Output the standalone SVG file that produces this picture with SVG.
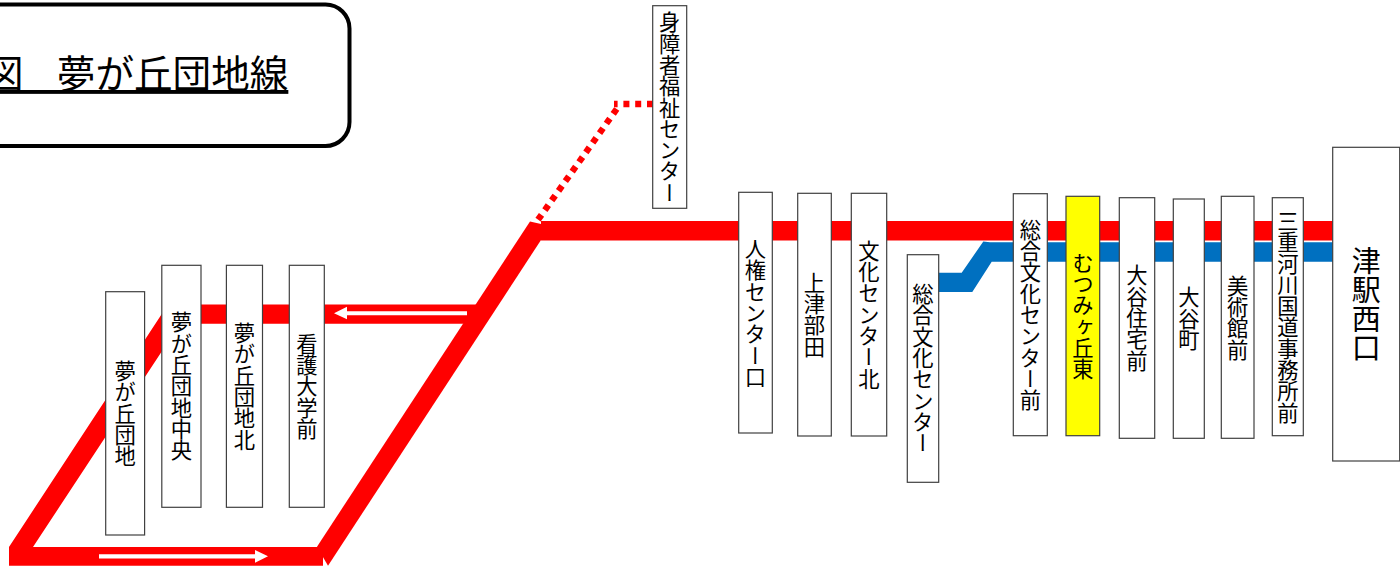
<svg xmlns="http://www.w3.org/2000/svg" width="1400" height="580" viewBox="0 0 1400 580">
<style>
.red{fill:#ff0000}
.blue{fill:#0070c0}
.dash{fill:none;stroke:#ff0000;stroke-width:6.4;stroke-dasharray:6 5.8}
.arrow{fill:#ffffff}
.box{fill:#ffffff;stroke:#404040;stroke-width:1.2}
.lbl{font-family:"Noto Sans CJK JP","Liberation Sans",sans-serif;font-size:21.3px;fill:#000;writing-mode:vertical-rl;text-anchor:middle}
.big{font-size:29px}
.title{font-family:"Noto Sans CJK JP","Liberation Sans",sans-serif;font-size:38.6px;fill:#000;text-decoration:underline;text-decoration-thickness:2px;text-decoration-skip-ink:none;text-underline-offset:4px;white-space:pre;word-spacing:8px}
</style>
<rect width="1400" height="580" fill="#ffffff"/>
<g id="title">
<rect x="-40" y="4.5" width="389.5" height="141.5" rx="24" fill="#fff" stroke="#000" stroke-width="4"/>
<text class="title" x="-15" y="88">図  夢が丘団地線</text>
</g>
<g id="connectors">
<path class="dash" d="M653,104H614"/>
<path class="dash" d="M616.7,109L535,224"/>
<polygon class="red" points="541,221 1333,221 1333,240.5 541,240.5"/>
<polygon class="red" points="530,221.5 541,224 541,240 328,565.7 317,546.7"/>
<polygon class="red" points="9,547 323,547 323,565.7 9,565.7"/>
<polygon class="red" points="9,547 168,304.5 480,304.5 480,323.7 180,323.7 33,547"/>
<polygon class="blue" points="938,272.7 961.7,272.7 983.3,241.5 990,242.3 1333,242.3 1333,261.7 991.7,261.7 972.3,292 938,292"/>
<polygon class="arrow" points="467,311.2 347,311.2 347,306.7 334,313.2 347,319.3 347,315.2 467,315.2"/>
<polygon class="arrow" points="99,554.3 255,554.3 255,550 268,556.3 255,562.7 255,558.6 99,558.6"/>
</g>
<g id="n-yumegaoka"><rect class="box" x="105.7" y="291.7" width="38.9" height="243.3"/><text class="lbl" x="125.1" y="413.5">夢が丘団地</text></g>
<g id="n-yumegaoka-chuo"><rect class="box" x="161.8" y="265.3" width="39.2" height="242"/><text class="lbl" x="181.4" y="386.3">夢が丘団地中央</text></g>
<g id="n-yumegaoka-kita"><rect class="box" x="226.4" y="265.3" width="36.1" height="242"/><text class="lbl" x="244.5" y="386.3">夢が丘団地北</text></g>
<g id="n-kango"><rect class="box" x="289.3" y="265.3" width="35" height="242"/><text class="lbl" x="306.8" y="386.3">看護大学前</text></g>
<g id="n-shinsho"><rect class="box" x="652.7" y="5.7" width="34" height="202.6"/><text class="lbl" x="669.7" y="107.5">身障者福祉センター</text></g>
<g id="n-jinken"><rect class="box" x="738.7" y="192.3" width="33.6" height="240.7"/><text class="lbl" x="755.5" y="313">人権センター口</text></g>
<g id="n-kozube"><rect class="box" x="797.7" y="193.3" width="33.6" height="242.7"/><text class="lbl" x="814.5" y="314.6">上津部田</text></g>
<g id="n-bunka-kita"><rect class="box" x="851.3" y="193.3" width="35.4" height="242.7"/><text class="lbl" x="869" y="314.6">文化センター北</text></g>
<g id="n-sogo"><rect class="box" x="907.3" y="254.7" width="31.4" height="227.6"/><text class="lbl" x="923" y="368.5">総合文化センター</text></g>
<g id="n-sogo-mae"><rect class="box" x="1013.3" y="193.7" width="34" height="242"/><text class="lbl" x="1030.3" y="315">総合文化センター前</text></g>
<g id="n-mutsumi"><rect x="1066" y="196.3" width="33.7" height="239.4" fill="#ffff00" stroke="#404040" stroke-width="1.2"/><text class="lbl" x="1082.8" y="316">むつみヶ丘東</text></g>
<g id="n-otani-jutaku"><rect class="box" x="1119.3" y="197.7" width="35.4" height="240.6"/><text class="lbl" x="1137" y="318">大谷住宅前</text></g>
<g id="n-otani"><rect class="box" x="1173.3" y="199" width="31" height="239.3"/><text class="lbl" x="1188.8" y="318.5">大谷町</text></g>
<g id="n-bijutsukan"><rect class="box" x="1221.3" y="196.3" width="32.7" height="242"/><text class="lbl" x="1237.7" y="317.5">美術館前</text></g>
<g id="n-mie"><rect class="box" x="1272.3" y="197.7" width="31" height="238"/><text class="lbl" x="1287.8" y="316.7">三重河川国道事務所前</text></g>
<g id="n-tsu"><rect class="box" x="1332.7" y="147.3" width="67" height="313.7"/><text class="lbl big" x="1366.2" y="304">津駅西口</text></g>
</svg>
